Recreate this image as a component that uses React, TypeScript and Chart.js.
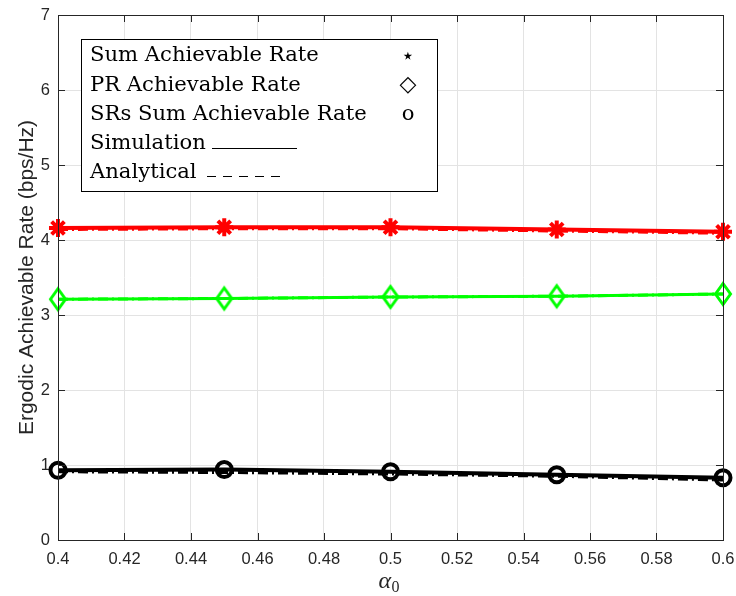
import React, { useEffect, useRef } from "react";
import { Chart, registerables } from "chart.js";

Chart.register(...registerables);

const alphaValues = [0.4, 0.45, 0.5, 0.55, 0.6];
const sumSim = [4.16, 4.17, 4.17, 4.14, 4.11];
const sumAna = [4.14, 4.15, 4.15, 4.12, 4.09];
const prSim = [3.21, 3.22, 3.24, 3.25, 3.28];
const prAna = [3.21, 3.22, 3.24, 3.25, 3.28];
const srSim = [0.93, 0.94, 0.91, 0.87, 0.83];
const srAna = [0.91, 0.9, 0.88, 0.85, 0.8];
const xTicks = [0.4, 0.42, 0.44, 0.46, 0.48, 0.5, 0.52, 0.54, 0.56, 0.58, 0.6];
const yTicks = [0, 1, 2, 3, 4, 5, 6, 7];
const legendLabels = [
  "Sum Achievable Rate",
  "PR Achievable Rate",
  "SRs Sum Achievable Rate",
  "Simulation",
  "Analytical",
];
const legendSymbols = ["\u22C6", "\u25C7", "o"];
const yTitle = "Ergodic Achievable Rate (bps/Hz)";

const RED = "#ff0000";
const GREEN = "#00ff00";
const BLACK = "#000000";
const AXIS = "#262626";

const toPts = (ys: number[]) => alphaValues.map((x, i) => ({ x, y: ys[i] }));

function makeDiamond(): HTMLCanvasElement {
  const c = document.createElement("canvas");
  c.width = 24;
  c.height = 28;
  const g = c.getContext("2d")!;
  g.strokeStyle = GREEN;
  g.lineWidth = 3;
  g.lineJoin = "miter";
  g.beginPath();
  g.moveTo(12, 3.5);
  g.lineTo(19.5, 14);
  g.lineTo(12, 24.5);
  g.lineTo(4.5, 14);
  g.closePath();
  g.stroke();
  return c;
}

const framePlugin = {
  id: "matlabFrame",
  afterDatasetsDraw(chart: any) {
    const { ctx, chartArea, scales } = chart;
    const { left, right, top, bottom } = chartArea;
    ctx.save();
    ctx.strokeStyle = AXIS;
    ctx.lineWidth = 1;
    const xs = scales.x;
    const ys = scales.y;
    xTicks.forEach((v) => {
      const px = Math.round(xs.getPixelForValue(v)) + 0.5;
      ctx.beginPath();
      ctx.moveTo(px, bottom);
      ctx.lineTo(px, bottom - 7);
      ctx.moveTo(px, top);
      ctx.lineTo(px, top + 7);
      ctx.stroke();
    });
    yTicks.forEach((v) => {
      const py = Math.round(ys.getPixelForValue(v)) + 0.5;
      ctx.beginPath();
      ctx.moveTo(left, py);
      ctx.lineTo(left + 7, py);
      ctx.moveTo(right, py);
      ctx.lineTo(right - 7, py);
      ctx.stroke();
    });
    ctx.strokeRect(Math.round(left) + 0.5, Math.round(top) + 0.5, Math.round(right - left), Math.round(bottom - top));
    ctx.restore();
  },
  afterDraw(chart: any) {
    const { ctx, chartArea } = chart;
    ctx.save();
    // axis titles
    ctx.fillStyle = AXIS;
    ctx.font = "21px 'Liberation Sans', Arial, sans-serif";
    ctx.textAlign = "center";
    ctx.textBaseline = "alphabetic";
    ctx.save();
    ctx.translate(33, (chartArea.top + chartArea.bottom) / 2);
    ctx.rotate(-Math.PI / 2);
    ctx.fillText(yTitle, 0, 0);
    ctx.restore();
    const cx = (chartArea.left + chartArea.right) / 2;
    ctx.textAlign = "left";
    ctx.font = "italic 24px 'Liberation Serif', serif";
    ctx.fillText("\u03B1", cx - 12, 588);
    ctx.font = "16px 'Liberation Serif', serif";
    ctx.fillText("0", cx + 1, 592);

    // legend box
    ctx.fillStyle = "#ffffff";
    ctx.fillRect(81, 39, 356, 152);
    ctx.strokeStyle = "#000000";
    ctx.lineWidth = 1;
    ctx.strokeRect(81.5, 39.5, 356, 152);
    ctx.fillStyle = "#000000";
    ctx.font = "20px 'DejaVu Serif', serif";
    const w = ctx.measureText(legendLabels[2]).width;
    const size = (20 * 277) / w;
    ctx.font = `${size}px 'DejaVu Serif', serif`;
    ctx.textBaseline = "alphabetic";
    ctx.textAlign = "left";
    const baselines = [61, 91, 120, 149, 178];
    legendLabels.forEach((t, i) => {
      ctx.fillText(t, 90, baselines[i]);
    });
    ctx.textAlign = "center";
    ctx.font = "22px 'DejaVu Sans', sans-serif";
    ctx.fillText(legendSymbols[0], 408, baselines[0] + 2);
    ctx.fillText(legendSymbols[1], 408, baselines[1]);
    ctx.font = `${size}px 'DejaVu Serif', serif`;
    ctx.fillText(legendSymbols[2], 408, baselines[2]);
    ctx.lineWidth = 1;
    ctx.beginPath();
    ctx.moveTo(212, 148.5);
    ctx.lineTo(297, 148.5);
    ctx.stroke();
    ctx.setLineDash([9, 7]);
    ctx.beginPath();
    ctx.moveTo(207, 176.5);
    ctx.lineTo(281, 176.5);
    ctx.stroke();
    ctx.restore();
  },
};

export default function App() {
  const ref = useRef<HTMLCanvasElement | null>(null);
  useEffect(() => {
    if (!ref.current) return;
    const diamond = makeDiamond();
    const dash = [10, 4, 2, 4];
    const chart = new Chart(ref.current, {
      type: "line",
      data: {
        datasets: [
          {
            data: toPts(sumSim),
            borderColor: RED,
            backgroundColor: RED,
            borderWidth: 4,
            pointStyle: "star",
            pointRadius: 9,
            pointBorderWidth: 4,
            pointBorderColor: RED,
            clip: false,
          },
          {
            data: toPts(sumAna),
            borderColor: RED,
            borderWidth: 3,
            borderDash: dash,
            pointRadius: 0,
            clip: false,
          },
          {
            data: toPts(prSim),
            borderColor: GREEN,
            backgroundColor: "rgba(0,0,0,0)",
            borderWidth: 3,
            pointStyle: diamond,
            pointRadius: 10,
            clip: false,
          },
          {
            data: toPts(prAna),
            borderColor: GREEN,
            borderWidth: 3,
            borderDash: dash,
            pointRadius: 0,
            clip: false,
          },
          {
            data: toPts(srSim),
            borderColor: BLACK,
            backgroundColor: "rgba(0,0,0,0)",
            borderWidth: 4,
            pointStyle: "circle",
            pointRadius: 7.5,
            pointBorderWidth: 4,
            pointBorderColor: BLACK,
            clip: false,
          },
          {
            data: toPts(srAna),
            borderColor: BLACK,
            borderWidth: 3,
            borderDash: dash,
            pointRadius: 0,
            clip: false,
          },
        ],
      },
      options: {
        animation: false,
        responsive: false,
        maintainAspectRatio: false,
        layout: { padding: { top: 15, right: 13, left: 0, bottom: 0 } },
        plugins: { legend: { display: false }, tooltip: { enabled: false } },
        scales: {
          x: {
            type: "linear",
            min: 0.4,
            max: 0.6,
            afterFit: (s: any) => {
              s.height = 56;
              s.paddingLeft = 0;
              s.paddingRight = 0;
            },
            afterBuildTicks: (s: any) => {
              s.ticks = xTicks.map((v) => ({ value: v }));
            },
            ticks: {
              color: AXIS,
              font: { family: "'Liberation Sans', Arial, sans-serif", size: 16.5 },
              padding: 10,
              maxRotation: 0,
              autoSkip: false,
              callback: (v: any) => String(parseFloat(Number(v).toFixed(2))),
            },
            grid: { color: "#e3e3e3", drawTicks: false },
            border: { color: AXIS },
          },
          y: {
            min: 0,
            max: 7,
            afterFit: (s: any) => {
              s.width = 58;
              s.paddingTop = 0;
              s.paddingBottom = 0;
            },
            afterBuildTicks: (s: any) => {
              s.ticks = yTicks.map((v) => ({ value: v }));
            },
            ticks: {
              color: AXIS,
              font: { family: "'Liberation Sans', Arial, sans-serif", size: 16.5 },
              padding: 8,
            },
            grid: { color: "#e3e3e3", drawTicks: false },
            border: { color: AXIS },
          },
        },
      },
      plugins: [framePlugin],
    } as any);
    return () => chart.destroy();
  }, []);
  return (
    <div style={{ position: "fixed", left: 0, top: 0, width: 736, height: 596, background: "#fff" }}>
      <canvas ref={ref} width={736} height={596} style={{ width: 736, height: 596 }} />
    </div>
  );
}
